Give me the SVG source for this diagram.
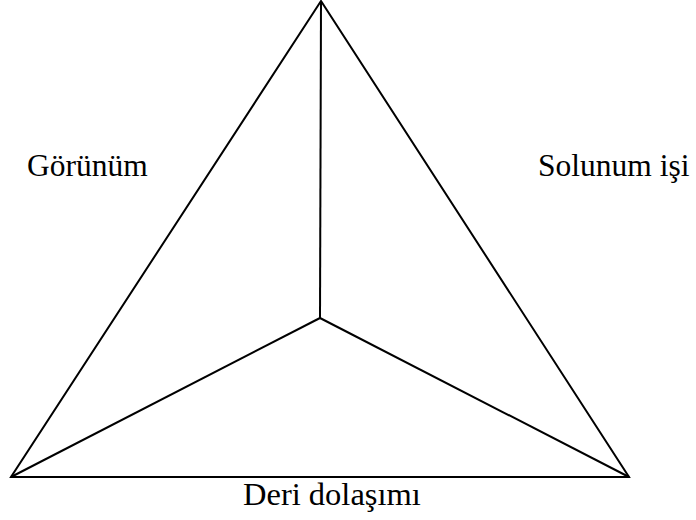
<svg xmlns="http://www.w3.org/2000/svg" width="696" height="520" viewBox="0 0 696 520">
<style>
.l{stroke:#000;stroke-width:2;fill:none;stroke-linejoin:miter;stroke-linecap:butt}
.t{font-family:"Liberation Serif","Times New Roman",serif;font-size:31.5px;fill:#000}
</style>
<rect width="696" height="520" fill="#fff"/>
<g id="connectors">
<polygon class="l" points="321,1 11,477 629,477"/>
<line class="l" x1="321" y1="1" x2="320" y2="318"/>
<line class="l" x1="320" y1="318" x2="11" y2="477"/>
<line class="l" x1="320" y1="318" x2="629" y2="477"/>
</g>
<g id="label-gorunum"><text class="t" x="27" y="176">Görünüm</text></g>
<g id="label-solunum"><text class="t" x="538" y="176">Solunum işi</text></g>
<g id="label-deri"><text class="t" x="243" y="505" style="font-size:32.5px">Deri dolaşımı</text></g>
</svg>
